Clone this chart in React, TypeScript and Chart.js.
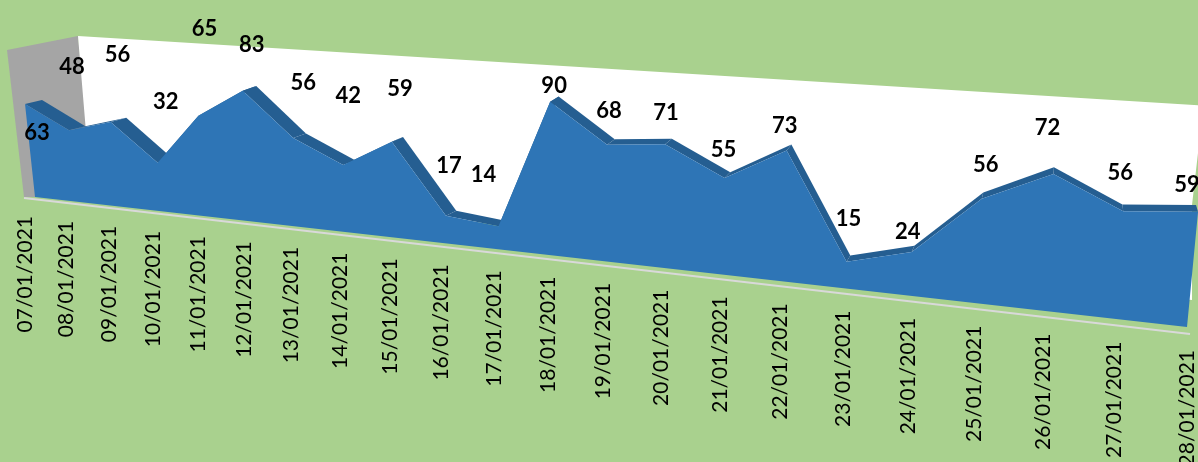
import React, { useEffect, useRef } from "react";
import { Chart, registerables } from "chart.js";

Chart.register(...registerables);

const categories = [
  "07/01/2021", "08/01/2021", "09/01/2021", "10/01/2021", "11/01/2021", "12/01/2021",
  "13/01/2021", "14/01/2021", "15/01/2021", "16/01/2021", "17/01/2021", "18/01/2021",
  "19/01/2021", "20/01/2021", "21/01/2021", "22/01/2021", "23/01/2021", "24/01/2021",
  "25/01/2021", "26/01/2021", "27/01/2021", "28/01/2021",
];
const seriesValues = [63, 48, 56, 32, 65, 83, 56, 42, 59, 17, 14, 90, 68, 71, 55, 73, 15, 24, 56, 72, 56, 59];

// hand placement of each data label relative to its point, as in the reference
const labelNudges: [number, number][] = [
  [12, 29], [3, -63], [7, -67], [8, -61], [6, -87], [9, -46], [10, -55], [5, -69], [8, -53], [3, -50], [-15, -51],
  [4, -16], [2, -34], [1, -31], [-1, -28], [-2, -25], [2, -43], [-4, -20], [4, -34], [-6, -46], [-3, -38], [-11, -27],
];

type Pt = [number, number];
function homography(p0: Pt, p1: Pt, p2: Pt, p3: Pt) {
  const dx1 = p1[0] - p2[0], dx2 = p3[0] - p2[0], sx = p0[0] - p1[0] + p2[0] - p3[0];
  const dy1 = p1[1] - p2[1], dy2 = p3[1] - p2[1], sy = p0[1] - p1[1] + p2[1] - p3[1];
  const den = dx1 * dy2 - dx2 * dy1;
  const g = (sx * dy2 - dx2 * sy) / den, h = (dx1 * sy - sx * dy1) / den;
  const a = p1[0] - p0[0] + g * p1[0], b = p3[0] - p0[0] + h * p3[0], c = p0[0];
  const d = p1[1] - p0[1] + g * p1[1], e = p3[1] - p0[1] + h * p3[1], f = p0[1];
  return (u: number, v: number): Pt => {
    const w = g * u + h * v + 1;
    return [(a * u + b * v + c) / w, (d * u + e * v + f) / w];
  };
}

const planes: Record<string, (u: number, v: number) => Pt> = {
  front: homography([35, 197], [1187, 327], [1206, 129], [19, 48]),
  back: homography([52, 193], [1185, 320], [1204, 122], [36, 44]),
};

const GREEN = "#A9D18E", BLUE = "#2E75B6", DARK = "#255E91", GRAY = "#A5A5A5", LIGHT = "#D9D9D9";

function poly(ctx: CanvasRenderingContext2D, pts: Pt[], fill: string) {
  ctx.beginPath();
  pts.forEach((p, i) => (i ? ctx.lineTo(p[0], p[1]) : ctx.moveTo(p[0], p[1])));
  ctx.closePath();
  ctx.fillStyle = fill;
  ctx.fill();
}

const perspective = {
  id: "perspective",
  afterDatasetsUpdate(chart: any) {
    const { x, y } = chart.scales;
    chart.data.datasets.forEach((ds: any, di: number) => {
      const map = planes[ds.plane];
      chart.getDatasetMeta(di).data.forEach((pt: any, i: number) => {
        const u = (x.getPixelForValue(i) - x.left) / x.width;
        const v = (y.bottom - y.getPixelForValue(ds.data[i])) / y.height;
        const [px, py] = map(u, v);
        pt.x = px;
        pt.y = py;
      });
    });
  },
  beforeDatasetsDraw(chart: any) {
    const ctx: CanvasRenderingContext2D = chart.ctx;
    ctx.save();
    // side wall and back wall
    poly(ctx, [[7, 50], [78, 36], [90, 150], [35, 197], [24, 197]], GRAY);
    poly(ctx, [[78, 36], [1210, 106], [1198, 153], [1192, 205], [1192, 300], [90, 180]], "#FFFFFF");
    // floor edge
    ctx.beginPath();
    ctx.moveTo(24, 198);
    ctx.lineTo(1190, 334);
    ctx.strokeStyle = LIGHT;
    ctx.lineWidth = 2;
    ctx.stroke();
    // top surface of the area between the front and back points, then the front face
    const front: Pt[] = chart.getDatasetMeta(0).data.map((p: any) => [p.x, p.y]);
    const back: Pt[] = chart.getDatasetMeta(1).data.map((p: any) => [p.x, p.y]);
    for (let i = 0; i < front.length - 1; i++) {
      poly(ctx, [front[i], front[i + 1], back[i + 1], back[i]], chart.data.datasets[1].backgroundColor);
    }
    const map = planes.front;
    poly(ctx, [map(0, 0), ...front, map(1, 0)], chart.data.datasets[0].backgroundColor);
    ctx.restore();
  },
  afterDatasetsDraw(chart: any) {
    const ctx: CanvasRenderingContext2D = chart.ctx;
    const { x } = chart.scales;
    const map = planes.front;
    const n = categories.length - 1;
    ctx.save();
    // tick labels
    ctx.fillStyle = "#000000";
    ctx.font = "21px Lato";
    ctx.textBaseline = "middle";
    ctx.textAlign = "right";
    categories.forEach((_, i) => {
      const t = i / n;
      const [fx, fy] = map(t, 0);
      ctx.save();
      ctx.translate(fx - 10 * (1 - t), fy + 19 + 4 * t);
      ctx.rotate(-Math.PI / 2);
      ctx.fillText(x.getLabelForValue(i), 0, 0);
      ctx.restore();
    });
    // data labels
    ctx.font = "bold 22px Lato";
    ctx.textAlign = "center";
    const pts = chart.getDatasetMeta(0).data;
    seriesValues.forEach((val, i) => {
      ctx.fillText(String(val), pts[i].x + labelNudges[i][0], pts[i].y + labelNudges[i][1]);
    });
    ctx.restore();
  },
};

export default function App() {
  const ref = useRef<HTMLCanvasElement>(null);
  useEffect(() => {
    document.body.style.margin = "0";
    document.body.style.background = GREEN;
    const chart = new Chart(ref.current!, {
      type: "line",
      data: {
        labels: categories,
        datasets: [
          { label: "front", plane: "front", data: seriesValues, backgroundColor: BLUE, borderWidth: 0, pointRadius: 0, fill: false },
          { label: "depth", plane: "back", data: seriesValues, backgroundColor: DARK, borderWidth: 0, pointRadius: 0, fill: false },
        ] as any,
      },
      options: {
        responsive: false,
        animation: false,
        layout: { padding: 0 },
        plugins: { legend: { display: false }, tooltip: { enabled: false } },
        scales: {
          x: { display: false },
          y: { display: false, min: 0, max: 100 },
        },
      },
      plugins: [perspective],
    });
    return () => chart.destroy();
  }, []);
  return (
    <div style={{ width: 1198, height: 462, background: GREEN, overflow: "hidden" }}>
      <canvas ref={ref} width={1198} height={462} style={{ display: "block" }} />
    </div>
  );
}
